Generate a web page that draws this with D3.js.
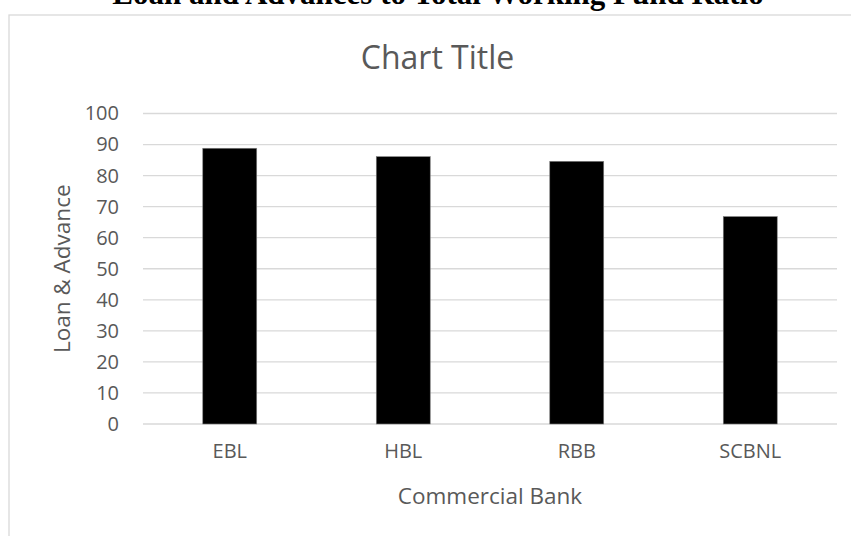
<!DOCTYPE html>
<html>
<head>
<meta charset="utf-8">
<script src="https://cdn.jsdelivr.net/npm/d3@7"></script>
<style>
  html, body { margin: 0; padding: 0; background: #fff; }
  svg { display: block; }
</style>
</head>
<body>
<svg id="chart" width="851" height="536"></svg>
<script>
const categories = ["EBL", "HBL", "RBB", "SCBNL"];
const values = [88.8, 86.1, 84.6, 66.8];
const yTicks = [0, 10, 20, 30, 40, 50, 60, 70, 80, 90, 100];
const docTitle = "Loan and Advances to Total Working Fund Ratio";
const chartTitle = "Chart Title";
const xTitle = "Commercial Bank";
const yTitle = "Loan & Advance";

const svg = d3.select("#chart");
const W = 851, H = 536;
const plot = { left: 143, right: 837, top: 113.5, bottom: 424 };
const font = "'Open Sans', sans-serif";
const txt = "#595959";

// document heading (clipped at top)
svg.append("text")
  .attr("x", 438).attr("y", 4)
  .attr("text-anchor", "middle")
  .attr("font-family", "'Liberation Serif', 'Times New Roman', serif")
  .attr("font-weight", "bold")
  .attr("font-size", 31)
  .attr("fill", "#000")
  .text(docTitle);

// chart area border
svg.append("rect")
  .attr("x", 9).attr("y", 15)
  .attr("width", 880).attr("height", 560)
  .attr("fill", "none")
  .attr("stroke", "#d9d9d9")
  .attr("stroke-width", 1.3);

const x = d3.scaleBand()
  .domain(categories)
  .range([plot.left, plot.right])
  .paddingInner(0.689)
  .paddingOuter(0.3445);

const y = d3.scaleLinear()
  .domain([0, 100])
  .range([plot.bottom, plot.top]);

// gridlines
svg.append("g")
  .selectAll("line")
  .data(yTicks)
  .join("line")
  .attr("x1", plot.left).attr("x2", plot.right)
  .attr("y1", d => y(d)).attr("y2", d => y(d))
  .attr("stroke", "#d9d9d9")
  .attr("stroke-width", 1.3);

// y axis labels
const yAxis = d3.axisLeft(y).tickValues(yTicks).tickSize(0).tickPadding(24);
const gy = svg.append("g")
  .attr("transform", `translate(${plot.left},0)`)
  .call(yAxis);
gy.select(".domain").remove();
gy.selectAll("text")
  .attr("font-family", font)
  .attr("font-size", 20)
  .attr("fill", txt);

// bars
svg.append("g")
  .selectAll("rect")
  .data(categories)
  .join("rect")
  .attr("x", d => x(d))
  .attr("y", (d, i) => y(values[i]))
  .attr("width", x.bandwidth())
  .attr("height", (d, i) => y(0) - y(values[i]))
  .attr("fill", "#000")
  .attr("stroke", "#7f7f7f")
  .attr("stroke-width", 0.6);

// x axis labels
const xAxis = d3.axisBottom(x).tickSize(0).tickPadding(0);
const gx = svg.append("g")
  .attr("transform", `translate(0,${plot.bottom})`)
  .call(xAxis);
gx.select(".domain").remove();
gx.selectAll("text")
  .attr("dy", null)
  .attr("y", 34)
  .attr("font-family", font)
  .attr("font-size", 20)
  .attr("fill", txt);

// chart title
svg.append("text")
  .attr("x", 437.5).attr("y", 69)
  .attr("text-anchor", "middle")
  .attr("font-family", font)
  .attr("font-size", 32)
  .attr("fill", txt)
  .text(chartTitle);

// x title
svg.append("text")
  .attr("x", (plot.left + plot.right) / 2).attr("y", 504)
  .attr("text-anchor", "middle")
  .attr("font-family", font)
  .attr("font-size", 22.5)
  .attr("fill", txt)
  .text(xTitle);

// y title
svg.append("text")
  .attr("transform", `translate(70,${(plot.top + plot.bottom) / 2}) rotate(-90)`)
  .attr("text-anchor", "middle")
  .attr("font-family", font)
  .attr("font-size", 22.5)
  .attr("fill", txt)
  .text(yTitle);
</script>
</body>
</html>
